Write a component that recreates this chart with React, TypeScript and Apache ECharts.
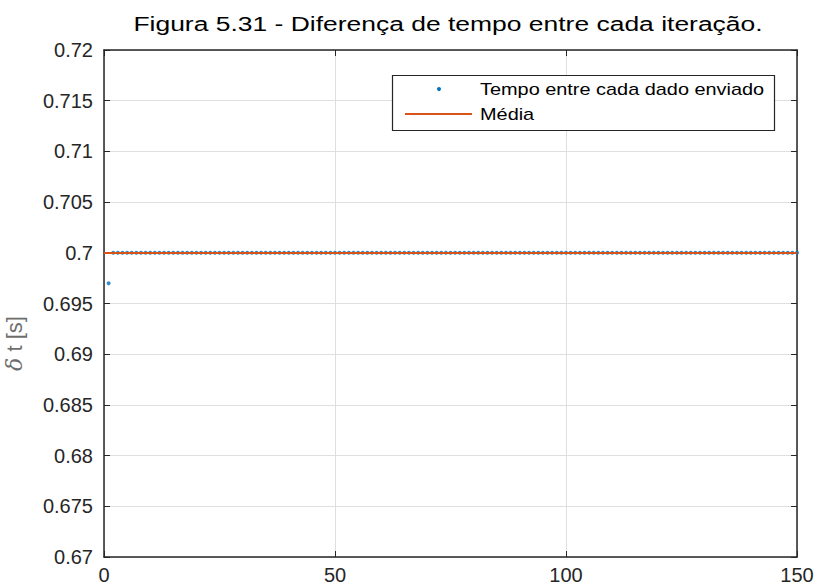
import React, { useEffect, useRef } from "react";
import * as echarts from "echarts";

const titleText = "Figura 5.31 - Diferença de tempo entre cada iteração.";
const yAxisName = "{g|δ} t [s]";
const seriesNames = ["Tempo entre cada dado enviado", "Média"];
const xTicks = [0, 50, 100, 150];
const yTicks = [0.67, 0.675, 0.68, 0.685, 0.69, 0.695, 0.7, 0.705, 0.71, 0.715, 0.72];

// delta t for iterations 1..150
const deltaT = [
  0.697, 0.7, 0.7, 0.7, 0.7, 0.7, 0.7, 0.7, 0.7, 0.7,
  0.7, 0.7, 0.7, 0.7, 0.7, 0.7, 0.7, 0.7, 0.7, 0.7,
  0.7, 0.7, 0.7, 0.7, 0.7, 0.7, 0.7, 0.7, 0.7, 0.7,
  0.7, 0.7, 0.7, 0.7, 0.7, 0.7, 0.7, 0.7, 0.7, 0.7,
  0.7, 0.7, 0.7, 0.7, 0.7, 0.7, 0.7, 0.7, 0.7, 0.7,
  0.7, 0.7, 0.7, 0.7, 0.7, 0.7, 0.7, 0.7, 0.7, 0.7,
  0.7, 0.7, 0.7, 0.7, 0.7, 0.7, 0.7, 0.7, 0.7, 0.7,
  0.7, 0.7, 0.7, 0.7, 0.7, 0.7, 0.7, 0.7, 0.7, 0.7,
  0.7, 0.7, 0.7, 0.7, 0.7, 0.7, 0.7, 0.7, 0.7, 0.7,
  0.7, 0.7, 0.7, 0.7, 0.7, 0.7, 0.7, 0.7, 0.7, 0.7,
  0.7, 0.7, 0.7, 0.7, 0.7, 0.7, 0.7, 0.7, 0.7, 0.7,
  0.7, 0.7, 0.7, 0.7, 0.7, 0.7, 0.7, 0.7, 0.7, 0.7,
  0.7, 0.7, 0.7, 0.7, 0.7, 0.7, 0.7, 0.7, 0.7, 0.7,
  0.7, 0.7, 0.7, 0.7, 0.7, 0.7, 0.7, 0.7, 0.7, 0.7,
  0.7, 0.7, 0.7, 0.7, 0.7, 0.7, 0.7, 0.7, 0.7, 0.7,
];
const meanRange = [0, 150];

const BLUE = "#0072BD";
const ORANGE = "#D95319";
const AX = "#262626";
const FONT = "'Liberation Sans', Arial, sans-serif";

export default function App() {
  const ref = useRef<HTMLDivElement>(null);
  useEffect(() => {
    if (!ref.current) return;
    const chart = echarts.init(ref.current, undefined, { renderer: "svg" });
    const mean = deltaT.reduce((a, b) => a + b, 0) / deltaT.length;
    const scatterData = deltaT.map((v, i) => [i + 1, v]);
    const xMin = xTicks[0], xMax = xTicks[xTicks.length - 1];
    const yMin = yTicks[0], yMax = yTicks[yTicks.length - 1];
    const yInt = 0.005;
    const fmt = (v: number) => String(+v.toFixed(3));
    const common = {
      axisLine: { show: true, onZero: false, lineStyle: { color: AX, width: 1.5 } },
      axisTick: { show: true, inside: true, length: 6, lineStyle: { color: AX, width: 1 } },
    };
    chart.setOption({
      animation: false,
      backgroundColor: "#ffffff",
      textStyle: { fontFamily: FONT },
      grid: { left: 104, right: 19, top: 50, bottom: 29, containLabel: false, outerBoundsMode: "none" },
      xAxis: [
        {
          type: "value", min: xMin, max: xMax, interval: 50, position: "bottom",
          ...common,
          axisLabel: { color: AX, fontSize: 20, margin: 8, formatter: (v: number) => String(v), showMaxLabel: true, showMinLabel: true },
          splitLine: { show: true, lineStyle: { color: "#dfdfdf", width: 1 } },
        },
        {
          type: "value", min: xMin, max: xMax, interval: 50, position: "top",
          ...common,
          axisLabel: { show: false },
          splitLine: { show: false },
        },
      ],
      yAxis: [
        {
          type: "value", min: yMin, max: yMax, interval: yInt, position: "left",
          ...common,
          axisLabel: { color: AX, fontSize: 20, margin: 11, formatter: fmt },
          splitLine: { show: true, lineStyle: { color: "#dfdfdf", width: 1 } },
          name: yAxisName, nameLocation: "middle", nameRotate: 90, nameGap: 79,
          nameTextStyle: {
            color: "#6e6e6e", fontSize: 22, fontFamily: FONT, padding: [0, 80, 0, 0],
            rich: { g: { color: "#6e6e6e", fontSize: 22, fontStyle: "italic", fontFamily: "'DejaVu Serif', serif" } },
          },
        },
        {
          type: "value", min: yMin, max: yMax, interval: yInt, position: "right",
          ...common,
          axisLabel: { show: false },
          splitLine: { show: false },
        },
      ],
      series: [
        {
          name: seriesNames[0], type: "scatter", data: scatterData,
          symbol: "circle", symbolSize: 4, itemStyle: { color: BLUE },
          xAxisIndex: 0, yAxisIndex: 0, silent: true,
        },
        {
          name: seriesNames[1], type: "line", data: meanRange.map((x) => [x, mean]),
          showSymbol: false, symbol: "none", lineStyle: { color: ORANGE, width: 2 },
          xAxisIndex: 0, yAxisIndex: 0, silent: true,
        },
      ],
      graphic: [
        {
          type: "text", x: 448, y: 24, scaleX: 1.26, z: 10,
          style: { text: titleText, fill: "#000", fontSize: 21, fontFamily: FONT, align: "center", verticalAlign: "middle" },
        },
        {
          type: "rect", shape: { x: 392.5, y: 75.5, width: 382, height: 55 }, z: 10,
          style: { fill: "#ffffff", stroke: AX, lineWidth: 1.2 },
        },
        {
          type: "circle", shape: { cx: 439, cy: 89, r: 2 }, z: 11,
          style: { fill: BLUE },
        },
        {
          type: "line", shape: { x1: 405, y1: 114, x2: 472, y2: 114 }, z: 11,
          style: { stroke: ORANGE, lineWidth: 2 },
        },
        {
          type: "text", x: 480, y: 89, scaleX: 1.17, z: 11,
          style: { text: seriesNames[0], fill: "#000", fontSize: 17, fontFamily: FONT, align: "left", verticalAlign: "middle" },
        },
        {
          type: "text", x: 480, y: 114, scaleX: 1.17, z: 11,
          style: { text: seriesNames[1], fill: "#000", fontSize: 17, fontFamily: FONT, align: "left", verticalAlign: "middle" },
        },
      ],
    });
    return () => chart.dispose();
  }, []);
  return (
    <div
      ref={ref}
      style={{ position: "fixed", left: 0, top: 0, width: 816, height: 586, background: "#fff" }}
    />
  );
}
